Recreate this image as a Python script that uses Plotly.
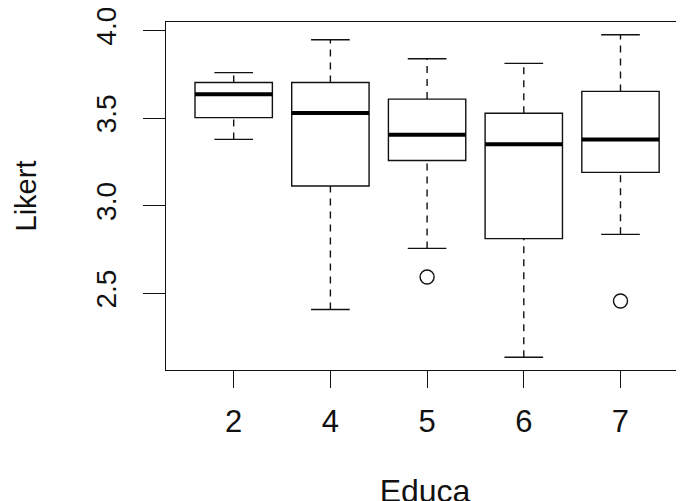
import plotly.graph_objects as go

# Data (R-style boxplot of Likert by Educa)
categories = ["2", "4", "5", "6", "7"]
lower_whisker = [3.378, 2.407, 2.756, 2.135, 2.836]
q1 = [3.502, 3.112, 3.258, 2.812, 3.190]
median = [3.635, 3.528, 3.405, 3.351, 3.378]
q3 = [3.703, 3.703, 3.608, 3.527, 3.652]
upper_whisker = [3.759, 3.947, 3.838, 3.812, 3.975]
outlier_cat = ["5", "7"]
outlier_val = [2.593, 2.456]

positions = list(range(1, len(categories) + 1))
pos_of = dict(zip(categories, positions))

BOX_HALF = 0.4
CAP_HALF = 0.2
LINE = "#111111"
FONT = "Liberation Sans, Arial, Helvetica, sans-serif"

fig = go.Figure()

# Boxes (no plotly whiskers; R-style whiskers drawn below)
for p, a, m, b in zip(positions, q1, median, q3):
    fig.add_trace(go.Box(
        x=[p], q1=[a], median=[m], q3=[b], lowerfence=[a], upperfence=[b],
        width=2 * BOX_HALF, fillcolor="white",
        line=dict(color=LINE, width=1.4), whiskerwidth=0,
        boxpoints=False, showlegend=False, hoverinfo="skip",
    ))

# Dashed whiskers
wx, wy = [], []
for p, lo, a, b, hi in zip(positions, lower_whisker, q1, q3, upper_whisker):
    wx += [p, p, None, p, p, None]
    wy += [lo, a, None, b, hi, None]
fig.add_trace(go.Scatter(x=wx, y=wy, mode="lines",
                         line=dict(color=LINE, width=1.4, dash="7px,6px"),
                         showlegend=False, hoverinfo="skip"))

# Staples (caps)
cx, cy = [], []
for p, lo, hi in zip(positions, lower_whisker, upper_whisker):
    cx += [p - CAP_HALF, p + CAP_HALF, None, p - CAP_HALF, p + CAP_HALF, None]
    cy += [lo, lo, None, hi, hi, None]
fig.add_trace(go.Scatter(x=cx, y=cy, mode="lines",
                         line=dict(color=LINE, width=1.4),
                         showlegend=False, hoverinfo="skip"))

# Thick medians
mx, my = [], []
for p, m in zip(positions, median):
    mx += [p - BOX_HALF, p + BOX_HALF, None]
    my += [m, m, None]
fig.add_trace(go.Scatter(x=mx, y=my, mode="lines",
                         line=dict(color="black", width=4),
                         showlegend=False, hoverinfo="skip"))

# Outliers
fig.add_trace(go.Scatter(x=[pos_of[c] for c in outlier_cat], y=outlier_val,
                         mode="markers",
                         marker=dict(symbol="circle-open", size=14,
                                     color=LINE, line=dict(width=1.4)),
                         showlegend=False, hoverinfo="skip"))

fig.update_layout(
    width=676, height=501,
    margin=dict(l=158, r=0, t=14, b=139, autoexpand=False),
    paper_bgcolor="white", plot_bgcolor="white",
    font=dict(family=FONT, color="#111111"),
    xaxis=dict(
        automargin=False,
        range=[0.3, 0.3 + 518 / 96.7],
        tickmode="array", tickvals=positions, ticktext=categories,
        showgrid=False, zeroline=False,
        showline=True, mirror=True, linecolor=LINE, linewidth=1.4,
        ticks="outside", ticklen=17, tickwidth=1.4, tickcolor=LINE,
        tickfont=dict(size=31), ticklabelstandoff=7,
        ticklabeloverflow="allow",
        title=dict(text="Educa", font=dict(size=32), standoff=46),
    ),
    yaxis=dict(
        automargin=False,
        range=[2.062, 4.048],
        tickmode="array", tickvals=[2.5, 3.0, 3.5, 4.0],
        ticktext=["2.5", "3.0", "3.5", "4.0"],
        showgrid=False, zeroline=False,
        showline=True, mirror=False, linecolor=LINE, linewidth=1.4,
        ticks="outside", ticklen=22, tickwidth=1.4, tickcolor=LINE,
        tickangle=-90, tickfont=dict(size=28), ticklabelstandoff=16,
        ticklabeloverflow="allow",
        title=dict(text="Likert", font=dict(size=29), standoff=45),
    ),
)

fig.write_html("out.html")
